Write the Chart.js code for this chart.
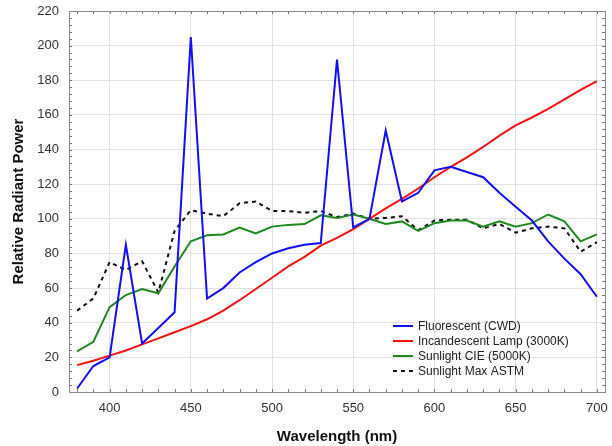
<!DOCTYPE html>
<html>
<head>
<meta charset="utf-8">
<script src="https://cdn.jsdelivr.net/npm/chart.js@4/dist/chart.umd.min.js"></script>
<style>
  html, body { margin: 0; padding: 0; background: #fff; }
  #wrap { width: 612px; height: 446px; }
</style>
</head>
<body>
<div id="wrap"><canvas id="spd" width="612" height="446"></canvas></div>
<script>
const wavelengths = [380, 390, 400, 410, 420, 430, 440, 450, 460, 470, 480, 490, 500, 510, 520, 530, 540,
  550, 560, 570, 580, 590, 600, 610, 620, 630, 640, 650, 660, 670, 680, 690, 700];

const fluorescent = [2, 15, 20, 85, 28, 37, 46, 205, 54, 60, 69, 75, 80, 83, 85, 86, 192,
  95, 100, 151, 110, 115, 128, 130, 127, 124, 115, 107, 99, 87, 77, 68, 55];

const incandescent = [15.5, 18, 21, 24, 27.5, 31, 34.5, 38, 42, 47, 53, 59.5, 66, 72.5, 78, 84.5, 89,
  94, 100, 106, 111.5, 117.5, 124, 130, 135.5, 141.5, 148, 154, 158.5, 163.5, 169, 174.5, 179.5];

const sunlightCIE = [23.5, 29, 49, 56, 59.5, 57, 72.5, 87, 90.5, 91, 95, 91.5, 95.5, 96.5, 97, 102, 100.5,
  102.5, 100, 97, 98.5, 93, 97.5, 99, 99, 95.5, 98.5, 95.5, 97.5, 102.5, 98.5, 87, 91];

const sunlightASTM = [47, 54, 75, 70.5, 75.5, 57.5, 93, 105, 103, 101.5, 109, 110, 104.5, 104.5, 103.5, 104.5, 101,
  103, 100, 100.5, 101.5, 93.5, 99, 99.5, 99.5, 94.5, 97, 92, 94.5, 95.5, 94.5, 81, 86.5];

const seriesNames = ['Fluorescent (CWD)', 'Incandescent Lamp (3000K)', 'Sunlight CIE (5000K)', 'Sunlight Max ASTM'];
const xTicks = [400, 450, 500, 550, 600, 650, 700];

function toPoints(values) {
  return wavelengths.map((w, i) => ({ x: w, y: values[i] }));
}

// small inward ticks on all four borders, like the original frame
const minorTicks = {
  id: 'minorTicks',
  afterDraw(chart) {
    const { ctx, chartArea: a, scales: { x, y } } = chart;
    ctx.save();
    ctx.strokeStyle = '#777';
    ctx.lineWidth = 1;
    ctx.beginPath();
    for (let w = 380; w <= 700; w += 10) {
      const px = Math.round(x.getPixelForValue(w)) + 0.5;
      ctx.moveTo(px, a.top); ctx.lineTo(px, a.top + 3);
      ctx.moveTo(px, a.bottom); ctx.lineTo(px, a.bottom - 3);
    }
    for (let v = 0; v <= 220; v += 4) {
      const py = Math.round(y.getPixelForValue(v)) + 0.5;
      ctx.moveTo(a.left, py); ctx.lineTo(a.left + 3, py);
      ctx.moveTo(a.right, py); ctx.lineTo(a.right - 3, py);
    }
    ctx.stroke();
    ctx.strokeStyle = '#8a8a8a';
    ctx.strokeRect(a.left + 0.5, a.top + 0.5, a.right - a.left, a.bottom - a.top);
    ctx.restore();
  }
};

// legend drawn inside the plot, lower right, no box
const innerLegend = {
  id: 'innerLegend',
  afterDatasetsDraw(chart) {
    const { ctx, chartArea: a } = chart;
    const x0 = a.left + 324;
    let yy = a.bottom - 66;
    ctx.save();
    ctx.font = '12px "Liberation Sans", Arial, sans-serif';
    ctx.textBaseline = 'middle';
    chart.data.datasets.forEach(ds => {
      ctx.strokeStyle = ds.borderColor;
      ctx.lineWidth = 2;
      ctx.setLineDash(ds.borderDash || []);
      ctx.beginPath();
      ctx.moveTo(x0, yy); ctx.lineTo(x0 + 20, yy);
      ctx.stroke();
      ctx.setLineDash([]);
      ctx.fillStyle = '#222';
      ctx.fillText(ds.label, x0 + 25, yy + 1);
      yy += 15;
    });
    ctx.restore();
  }
};

new Chart(document.getElementById('spd').getContext('2d'), {
  type: 'line',
  data: {
    datasets: [
      { label: seriesNames[0], data: toPoints(fluorescent), borderColor: '#1010ff', borderWidth: 2 },
      { label: seriesNames[1], data: toPoints(incandescent), borderColor: '#ff1010', borderWidth: 2 },
      { label: seriesNames[2], data: toPoints(sunlightCIE), borderColor: '#1e8a1e', borderWidth: 2 },
      { label: seriesNames[3], data: toPoints(sunlightASTM), borderColor: '#111', borderWidth: 2, borderDash: [4, 4] }
    ]
  },
  options: {
    responsive: false,
    animation: false,
    layout: { padding: { top: 11, right: 7, left: 10, bottom: 0 } },
    elements: { point: { radius: 0 }, line: { tension: 0 } },
    plugins: { legend: { display: false }, tooltip: { enabled: false } },
    scales: {
      x: {
        type: 'linear',
        min: 375,
        max: 705,
        afterBuildTicks: s => { s.ticks = xTicks.map(v => ({ value: v })); },
        grid: { color: '#e2e2e2', drawTicks: false },
        border: { display: false },
        ticks: { padding: 9, color: '#333', font: { family: '"Liberation Sans", Arial', size: 13 } },
        title: {
          display: true, text: 'Wavelength (nm)', color: '#111',
          font: { family: '"Liberation Sans", Arial', size: 15, weight: 'bold' },
          padding: { top: 9, bottom: 0 }
        },
        afterFit: s => { s.height = 54; s.paddingLeft = 0; s.paddingRight = 0; }
      },
      y: {
        min: 0,
        max: 220,
        ticks: { stepSize: 20, padding: 10, color: '#333', font: { family: '"Liberation Sans", Arial', size: 13 } },
        grid: { color: '#e2e2e2', drawTicks: false },
        border: { display: false },
        title: {
          display: true, text: 'Relative Radiant Power', color: '#111',
          font: { family: '"Liberation Sans", Arial', size: 15, weight: 'bold' },
          padding: { top: 0, bottom: 6 }
        },
        afterFit: s => { s.width = 59; s.paddingTop = 0; s.paddingBottom = 0; }
      }
    }
  },
  plugins: [minorTicks, innerLegend]
});
</script>
</body>
</html>
